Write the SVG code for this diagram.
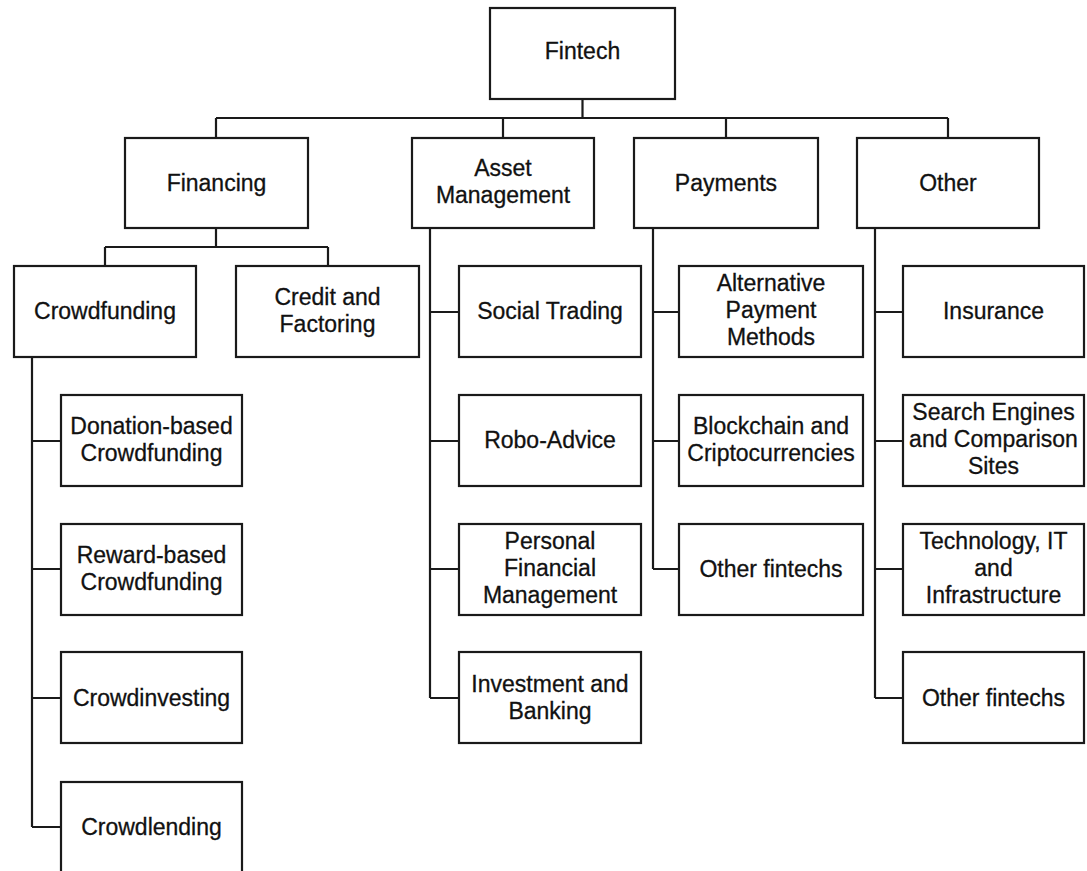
<svg xmlns="http://www.w3.org/2000/svg" width="1087" height="871" viewBox="0 0 1087 871">
<style>
.box{fill:#fff;stroke:#1a1a1a;stroke-width:2.2}
.t{font-family:"Liberation Sans",Arial,sans-serif;font-size:23px;fill:#111;text-anchor:middle;stroke:#111;stroke-width:0.3}
.c{fill:none;stroke:#1a1a1a;stroke-width:2.2}
</style>
<rect width="1087" height="871" fill="#fff"/>
<g id="connectors">
<path class="c" d="M582.5,99V118M216,118H948M216,118V138M503,118V138M726,118V138M948,118V138"/>
<path class="c" d="M216,228V247M105,247H328M105,247V266M328,247V266"/>
<path class="c" d="M32,357V827M32,441H61M32,569H61M32,698H61M32,827H61"/>
<path class="c" d="M430,228V698M430,312H459M430,441H459M430,569H459M430,698H459"/>
<path class="c" d="M653,228V569M653,312H679M653,441H679M653,569H679"/>
<path class="c" d="M875,228V698M875,312H903M875,441H903M875,569H903M875,698H903"/>
</g>
<g id="fintech"><rect class="box" x="490" y="8" width="185" height="91"/><text class="t" x="582.5" y="59">Fintech</text></g>
<g id="financing"><rect class="box" x="125" y="138" width="183" height="90"/><text class="t" x="216.5" y="191">Financing</text></g>
<g id="asset-management"><rect class="box" x="412" y="138" width="182" height="90"/><text class="t" x="503" y="176">Asset</text><text class="t" x="503" y="203">Management</text></g>
<g id="payments"><rect class="box" x="634" y="138" width="184" height="90"/><text class="t" x="726" y="191">Payments</text></g>
<g id="other"><rect class="box" x="857" y="138" width="182" height="90"/><text class="t" x="948" y="191">Other</text></g>
<g id="crowdfunding"><rect class="box" x="14" y="266" width="182" height="91"/><text class="t" x="105" y="319">Crowdfunding</text></g>
<g id="credit-factoring"><rect class="box" x="236" y="266" width="183" height="91"/><text class="t" x="327.5" y="305">Credit and</text><text class="t" x="327.5" y="332">Factoring</text></g>
<g id="donation"><rect class="box" x="61" y="395" width="181" height="91"/><text class="t" x="151.5" y="434">Donation-based</text><text class="t" x="151.5" y="461">Crowdfunding</text></g>
<g id="reward"><rect class="box" x="61" y="524" width="181" height="91"/><text class="t" x="151.5" y="563">Reward-based</text><text class="t" x="151.5" y="590">Crowdfunding</text></g>
<g id="crowdinvesting"><rect class="box" x="61" y="652" width="181" height="91"/><text class="t" x="151.5" y="706">Crowdinvesting</text></g>
<g id="crowdlending"><rect class="box" x="61" y="782" width="181" height="92"/><text class="t" x="151.5" y="835">Crowdlending</text></g>
<g id="social-trading"><rect class="box" x="459" y="266" width="182" height="91"/><text class="t" x="550" y="319">Social Trading</text></g>
<g id="robo-advice"><rect class="box" x="459" y="395" width="182" height="91"/><text class="t" x="550" y="448">Robo-Advice</text></g>
<g id="pfm"><rect class="box" x="459" y="524" width="182" height="91"/><text class="t" x="550" y="549">Personal</text><text class="t" x="550" y="576">Financial</text><text class="t" x="550" y="603">Management</text></g>
<g id="investment-banking"><rect class="box" x="459" y="652" width="182" height="91"/><text class="t" x="550" y="692">Investment and</text><text class="t" x="550" y="719">Banking</text></g>
<g id="alt-payment"><rect class="box" x="679" y="266" width="184" height="91"/><text class="t" x="771" y="291">Alternative</text><text class="t" x="771" y="318">Payment</text><text class="t" x="771" y="345">Methods</text></g>
<g id="blockchain"><rect class="box" x="679" y="395" width="184" height="91"/><text class="t" x="771" y="434">Blockchain and</text><text class="t" x="771" y="461">Criptocurrencies</text></g>
<g id="payments-other"><rect class="box" x="679" y="524" width="184" height="91"/><text class="t" x="771" y="577">Other fintechs</text></g>
<g id="insurance"><rect class="box" x="903" y="266" width="181" height="91"/><text class="t" x="993.5" y="319">Insurance</text></g>
<g id="search-engines"><rect class="box" x="903" y="395" width="181" height="91"/><text class="t" x="993.5" y="420">Search Engines</text><text class="t" x="993.5" y="447">and Comparison</text><text class="t" x="993.5" y="474">Sites</text></g>
<g id="technology"><rect class="box" x="903" y="524" width="181" height="91"/><text class="t" x="993.5" y="549">Technology, IT</text><text class="t" x="993.5" y="576">and</text><text class="t" x="993.5" y="603">Infrastructure</text></g>
<g id="other-fintechs"><rect class="box" x="903" y="652" width="181" height="91"/><text class="t" x="993.5" y="706">Other fintechs</text></g>
</svg>
